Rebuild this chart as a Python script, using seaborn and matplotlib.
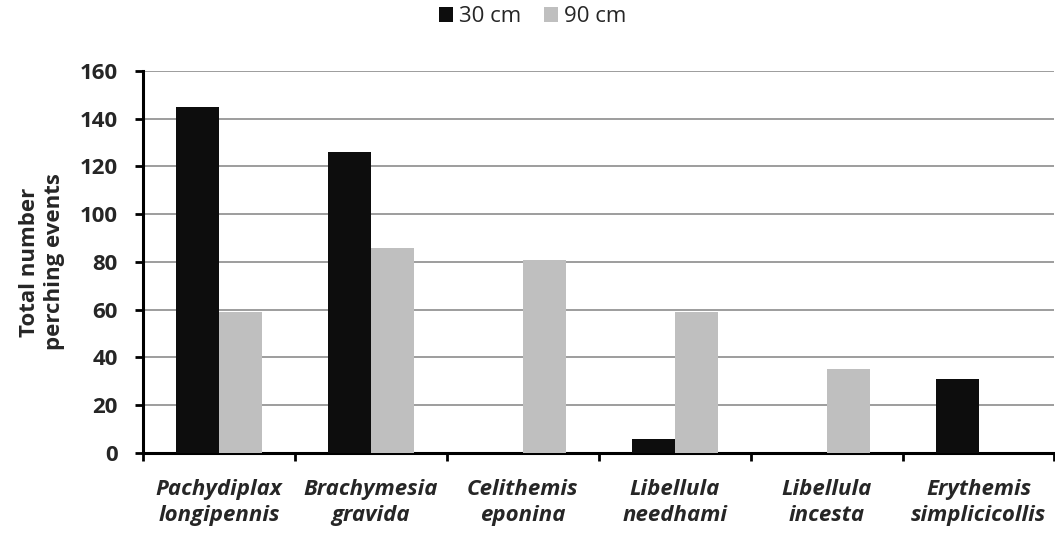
import matplotlib
matplotlib.use("Agg")
import matplotlib.pyplot as plt
import seaborn as sns
import pandas as pd
import numpy as np
from matplotlib.ticker import FixedLocator
from matplotlib.patches import Patch

species = ["Pachydiplax\nlongipennis", "Brachymesia\ngravida", "Celithemis\neponina",
           "Libellula\nneedhami", "Libellula\nincesta", "Erythemis\nsimplicicollis"]
heights = ["30 cm", "90 cm"]
vals_30 = [145, 126, 0, 6, 0, 31]
vals_90 = [59, 86, 81, 59, 35, 0]
yticks = [0, 20, 40, 60, 80, 100, 120, 140, 160]
colors = ["#0d0d0d", "#bfbfbf"]

df = pd.DataFrame({
    "species": species * 2,
    "height": [heights[0]] * len(species) + [heights[1]] * len(species),
    "value": vals_30 + vals_90,
})

sns.set_theme(style="white")
plt.rcParams['font.family'] = ['Open Sans', 'DejaVu Sans']

fig = plt.figure(figsize=(10.55, 5.39), dpi=100)
ax = fig.add_axes([0.1355, 0.1596, 0.864, 0.7087])

sns.barplot(data=df, x="species", y="value", hue="height", hue_order=heights,
            order=species, palette=colors, width=0.565, gap=0,
            saturation=1, ax=ax, legend=False, linewidth=0, zorder=3)

ax.set_ylim(0, 160)
ax.set_xlim(-0.5, len(species) - 0.5)
ax.set_yticks(yticks)
ax.set_yticklabels([str(v) for v in yticks], fontsize=16, fontweight="bold")
ax.yaxis.grid(True, color="#8c8c8c", linewidth=1.2, zorder=0)
ax.set_axisbelow(True)

ax.set_xticks(range(len(species)))
ax.set_xticklabels(species, fontsize=16, fontweight="bold", fontstyle="italic",
                   linespacing=1.3)
ax.tick_params(axis="x", which="major", length=0, pad=19)
ax.xaxis.set_minor_locator(FixedLocator(np.arange(-0.5, len(species), 1.0)))
ax.tick_params(axis="x", which="minor", length=6, width=2, color="black", direction="out", bottom=True)
ax.tick_params(axis="y", which="major", length=6, width=2, color="black", direction="out", left=True, pad=12)

for s in ["top", "right"]:
    ax.spines[s].set_visible(False)
for s in ["left", "bottom"]:
    ax.spines[s].set_color("black")
    ax.spines[s].set_linewidth(2.2)

ax.set_xlabel("")
ax.set_ylabel("Total number\nperching events", fontsize=16, fontweight="bold", linespacing=1.25)
ax.yaxis.set_label_coords(-0.0855, 0.5)

handles = [Patch(facecolor=c, edgecolor="none", label=h) for c, h in zip(colors, heights)]
fig.legend(handles=handles, loc="center", bbox_to_anchor=(533 / 1055, 1 - 17 / 539), ncol=2,
           frameon=False, fontsize=16, handlelength=0.63, handleheight=0.63,
           handletextpad=0.27, columnspacing=1.04, borderpad=0)

fig.savefig("out.png", dpi=100)
